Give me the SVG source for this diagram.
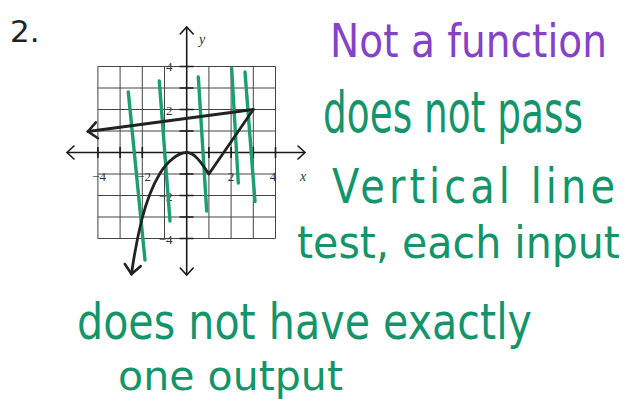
<svg xmlns="http://www.w3.org/2000/svg" width="625" height="411" viewBox="0 0 625 411">
<style>
.grid{stroke:#444;stroke-width:1;fill:none}
.axis{stroke:#1a1a1a;stroke-width:1.6;fill:none}
.tick{stroke:#1a1a1a;stroke-width:1.6}
.num{font-family:"Liberation Serif",serif;font-size:13px;fill:#333}
.var{font-family:"Liberation Serif",serif;font-style:italic;font-size:14px;fill:#333}
.curve{stroke:#222;stroke-width:2.8;fill:none;stroke-linejoin:round;stroke-linecap:round}
.mark{stroke:#1d9e70;stroke-width:3.4;stroke-linecap:round;fill:none}
.hand{font-family:"DejaVu Sans",sans-serif;fill:#14946a}
.purple{fill:#8442c6}
</style>
<defs>
<marker id="chev" markerUnits="userSpaceOnUse" markerWidth="20" markerHeight="20" refX="10" refY="10" orient="auto-start-reverse" viewBox="0 0 20 20">
<path d="M3,3.5 L10,10 L3,16.5" fill="none" stroke="#1a1a1a" stroke-width="1.6" stroke-linecap="round"/>
</marker>
<marker id="chevb" markerUnits="userSpaceOnUse" markerWidth="24" markerHeight="24" refX="12" refY="12" orient="auto" viewBox="0 0 24 24">
<path d="M3,4 L12,12 L3,20" fill="none" stroke="#222" stroke-width="2.6" stroke-linecap="round"/>
</marker>
</defs>
<rect width="625" height="411" fill="#fff"/>
<text x="10" y="42" font-family="DejaVu Sans,sans-serif" font-size="31" fill="#222">2.</text>
<g id="grid">
<path class="grid" d="M97.9,66.5V238.5M120.1,66.5V238.5M142.3,66.5V238.5M164.5,66.5V238.5M208.9,66.5V238.5M231.1,66.5V238.5M253.3,66.5V238.5M275.5,66.5V238.5M97.9,66.5H275.5M97.9,88H275.5M97.9,109.5H275.5M97.9,131H275.5M97.9,174H275.5M97.9,195.5H275.5M97.9,217H275.5M97.9,238.5H275.5"/>
</g>
<g id="axes">
<path class="axis" d="M67,152.5H305" marker-start="url(#chev)" marker-end="url(#chev)"/>
<path class="axis" d="M186.7,27V275" marker-start="url(#chev)" marker-end="url(#chev)"/>
<path class="tick" d="M97.9,147V158M120.1,147V158M142.3,147V158M164.5,147V158M208.9,147V158M231.1,147V158M253.3,147V158M275.5,147V158M179.5,66.5H193.5M179.5,88H193.5M179.5,109.5H193.5M179.5,131H193.5M179.5,174H193.5M179.5,195.5H193.5M179.5,217H193.5M179.5,238.5H193.5"/>
<text class="num" x="172.5" y="71" text-anchor="end">4</text>
<text class="num" x="172.5" y="115" text-anchor="end">2</text>
<text class="num" x="172.5" y="201" text-anchor="end">−2</text>
<text class="num" x="172.5" y="244" text-anchor="end">−4</text>
<text class="num" x="99" y="181" text-anchor="middle">−4</text>
<text class="num" x="144" y="181" text-anchor="middle">−2</text>
<text class="num" x="231" y="181" text-anchor="middle">2</text>
<text class="num" x="273" y="181" text-anchor="middle">4</text>
<text class="var" x="300" y="181">x</text>
<text class="var" x="199" y="44">y</text>
</g>
<g id="vertical-marks">
<path class="mark" d="M128.3,92 L145,260"/>
<path class="mark" d="M159.3,81 L170,221"/>
<path class="mark" d="M198.3,77 L206.7,211"/>
<path class="mark" d="M231.7,68.5 L238.3,183" stroke-width="4.2"/>
<path class="mark" d="M245,72 L255,201.5"/>
</g>
<g id="relation">
<path class="curve" d="M253.3,109.5 L88,131.5" marker-end="url(#chevb)"/>
<path class="curve" d="M253.3,109.5 L208.9,174 C202,164 195,152.5 186.7,152.5 C178,152.5 167,162 160,173.3 C153,185 146,203 141.7,220 C137.5,237 134,256 131.5,274" marker-end="url(#chevb)"/>
</g>
<g id="notes">
<text class="hand purple" transform="translate(330,57) scale(1,1.2)" font-size="39" textLength="277" lengthAdjust="spacingAndGlyphs">Not a function</text>
<text class="hand" transform="translate(323,132) scale(1,1.5)" font-size="37.4" textLength="260" lengthAdjust="spacingAndGlyphs">does not pass</text>
<text class="hand" transform="translate(332,203) scale(1,1.2)" font-size="40" textLength="283" lengthAdjust="spacing">Vertical line</text>
<text class="hand" transform="translate(297,258) scale(1,1.1)" font-size="41" textLength="323" lengthAdjust="spacingAndGlyphs">test, each input</text>
<text class="hand" transform="translate(77,339) scale(1,1.2)" font-size="41" textLength="455" lengthAdjust="spacingAndGlyphs">does not have exactly</text>
<text class="hand" x="118" y="390" font-size="41" textLength="225" lengthAdjust="spacingAndGlyphs">one output</text>
</g>
</svg>
